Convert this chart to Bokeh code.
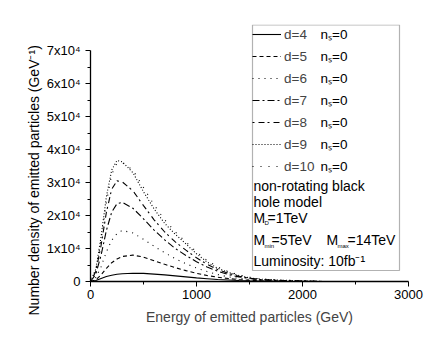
from bokeh.plotting import figure
from bokeh.models import (Range1d, FixedTicker, CustomJSTickFormatter, Legend, LegendItem,
                          BoxAnnotation, Label, Title)
from bokeh.embed import file_html
from bokeh.resources import INLINE

# ---------------- data ----------------
energy = [0, 50, 100, 150, 200, 250, 300, 400, 500, 600, 700, 800, 900, 1000,
          1100, 1200, 1300, 1400, 1500, 1600, 1800, 2000, 2200]

d4 = [0, 300, 900, 1500, 1900, 2200, 2350, 2500, 2450, 2250, 2000, 1700, 1400, 1100,
      850, 600, 450, 300, 200, 120, 50, 20, 0]
d5 = [0, 500, 2000, 4000, 5700, 6800, 7600, 8000, 7400, 6300, 5200, 4200, 3300, 2500,
      1800, 1300, 900, 600, 400, 250, 100, 40, 0]
d6 = [0, 1200, 4500, 9000, 12500, 14500, 15500, 14700, 12800, 10700, 8700, 6900, 5400, 4100,
      3000, 2100, 1400, 950, 600, 350, 150, 60, 0]
d7 = [0, 2200, 8000, 15500, 21000, 23600, 24000, 22200, 19000, 15600, 12600, 10000, 7900, 6000,
      4400, 3100, 2100, 1400, 900, 550, 250, 100, 0]
d8 = [0, 3000, 11000, 21000, 28000, 30500, 30200, 27500, 23000, 18700, 15000, 12000, 9500, 7200,
      5200, 3600, 2500, 1600, 1000, 600, 300, 150, 0]
d9 = [0, 3700, 13600, 25700, 33800, 36700, 36300, 33000, 27200, 22000, 17600, 14300, 11400, 8400,
      5900, 4000, 2800, 1800, 1100, 700, 400, 200, 0]
d10 = [0, 3300, 12500, 24000, 32500, 35800, 36000, 33800, 28500, 23200, 18700, 15000, 12000, 9000,
       6400, 4400, 3000, 2000, 1300, 800, 450, 220, 0]

series = [d4, d5, d6, d7, d8, d9, d10]
series_labels = ["d=4", "d=5", "d=6", "d=7", "d=8", "d=9", "d=10"]
ns_label = "n\u209b=0"

x_ticks = [0, 1000, 2000, 3000]
x_tick_labels = ["0", "1000", "2000", "3000"]
y_ticks = [0, 10000, 20000, 30000, 40000, 50000, 60000, 70000]
y_tick_labels = ["0", "1x10\u2074", "2x10\u2074", "3x10\u2074", "4x10\u2074",
                 "5x10\u2074", "6x10\u2074", "7x10\u2074"]

x_title = "Energy of emitted particles (GeV)"
y_title = "Number density of emitted particles (GeV\u207b\u00b9)"

# ---------------- styles ----------------
FONT = "Liberation Sans"
dashes = ["solid", "4 3", "1 5", "7 3 2 3", "2 4 6 3", "1 2", "1 7"]

X_END = 3000
Y_END = 77900
FL, FT, FW, FH = 90, 24, 318, 257   # frame position on the page (px)


def dx(px):
    return (px - FL) / FW * X_END


def dy(py):
    return (FT + FH - py) / FH * Y_END


p = figure(frame_width=FW, frame_height=FH,
           min_border_left=FL, min_border_right=27, min_border_top=FT, min_border_bottom=59,
           x_range=Range1d(0, X_END), y_range=Range1d(0, Y_END),
           output_backend="svg", toolbar_location=None)
p.grid.visible = False
p.outline_line_color = None
p.background_fill_color = "white"
p.border_fill_color = "white"

for ax in (p.xaxis[0], p.yaxis[0]):
    ax.axis_line_color = "black"
    ax.axis_line_width = 1.3
    ax.major_tick_line_color = "black"
    ax.minor_tick_line_color = "black"
    ax.major_tick_in = 0
    ax.major_tick_out = 5
    ax.minor_tick_in = 0
    ax.minor_tick_out = 3
    ax.major_label_text_font = FONT
    ax.major_label_text_font_size = "13px"
    ax.major_label_text_color = "black"
    ax.axis_label_text_font = FONT
    ax.axis_label_text_font_size = "14px"
    ax.axis_label_text_font_style = "normal"

xa = p.xaxis[0]
xa.ticker = FixedTicker(ticks=x_ticks,
                        minor_ticks=[(a + b) / 2 for a, b in zip(x_ticks[:-1], x_ticks[1:])])
xa.formatter = CustomJSTickFormatter(args=dict(vals=x_ticks, labs=x_tick_labels),
                                     code="const i = vals.indexOf(tick); return i >= 0 ? labs[i] : '';")
xa.major_label_standoff = 3
xa.axis_label = x_title
xa.axis_label_standoff = 7

ya = p.yaxis[0]
ya.bounds = (0, y_ticks[-1])
ya.ticker = FixedTicker(ticks=y_ticks,
                        minor_ticks=[(a + b) / 2 for a, b in zip(y_ticks[:-1], y_ticks[1:])])
ya.formatter = CustomJSTickFormatter(args=dict(vals=y_ticks, labs=y_tick_labels),
                                     code="const i = vals.indexOf(tick); return i >= 0 ? labs[i] : '';")
ya.major_label_standoff = 5

# y-axis title as a left-side title (so it can be shifted along the axis)
p.add_layout(Title(text=y_title, align="left", offset=-34, standoff=4,
                   text_font=FONT, text_font_size="14px", text_font_style="normal",
                   text_color="black"), "left")

# curves
items = []
for vals, lab, dash in zip(series, series_labels, dashes):
    r = p.line(energy, vals, line_color="black", line_width=1.1, line_dash=dash)
    items.append(LegendItem(label=lab, renderers=[r]))

legend = Legend(items=items, location=(162, 105), padding=0, spacing=2,
                glyph_height=20, label_height=20, glyph_width=29, label_standoff=3,
                label_text_font=FONT, label_text_font_size="13.5px",
                border_line_alpha=0, background_fill_alpha=0, margin=0)
p.add_layout(legend)

# box around the legend/notes
p.add_layout(BoxAnnotation(left=dx(252), right=dx(399), top=dy(24.5), bottom=dy(270),
                           fill_alpha=0, line_color="black", line_width=1.2))

# n_s labels for each legend entry
for i in range(len(series_labels)):
    p.add_layout(Label(x=dx(320), y=dy(34 + 22 * i), text=ns_label, text_baseline="middle",
                       text_font=FONT, text_font_size="13.5px", text_color="black"))

notes = [
    ("non-rotating black", 253, 185, "14px"),
    ("hole model", 253, 201, "14px"),
    ("M", 253, 217, "14px"), ("D", 264, 222, "6px"), ("=1TeV", 267, 217, "14px"),
    ("M", 253, 239, "14px"), ("min", 264, 245, "6px"), ("=5TeV", 271, 239, "14px"),
    ("M", 326, 239, "14px"), ("max", 337, 245, "6px"), ("=14TeV", 347, 239, "14px"),
    ("Luminosity: 10fb\u207b\u00b9", 253, 260, "14px"),
]
for txt, px, py, fs in notes:
    p.add_layout(Label(x=dx(px), y=dy(py), text=txt, text_baseline="middle",
                       text_font=FONT, text_font_size=fs, text_color="black"))

open("out.html", "w").write(file_html(p, INLINE))
